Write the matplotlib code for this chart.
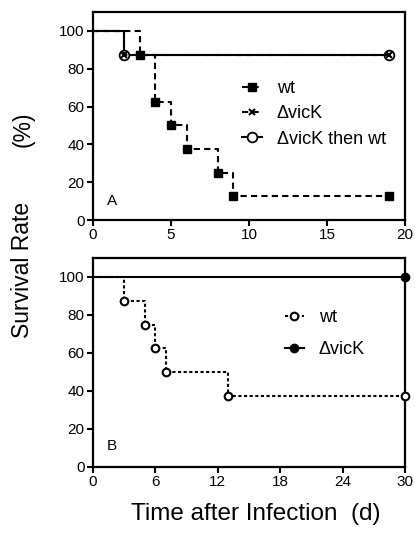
import matplotlib
matplotlib.use("Agg")
import matplotlib.pyplot as plt

plt.rcParams['font.family'] = ['Liberation Sans', 'DejaVu Sans']

# Panel A data
a_wt_t = [0, 3, 4, 5, 6, 8, 9, 19]
a_wt_s = [100, 87.5, 62.5, 50, 37.5, 25, 12.5, 12.5]
a_vick_t = [0, 2, 19]
a_vick_s = [100, 87.5, 87.5]
a_then_t = [0, 2, 19]
a_then_s = [100, 87.5, 87.5]
a_xticks = [0, 5, 10, 15, 20]

# Panel B data
b_wt_t = [0, 3, 5, 6, 7, 13, 30]
b_wt_s = [100, 87.5, 75, 62.5, 50, 37.5, 37.5]
b_vick_t = [0, 30]
b_vick_s = [100, 100]
b_xticks = [0, 6, 12, 18, 24, 30]

yticks = [0, 20, 40, 60, 80, 100]

W, H = 415, 533
fig = plt.figure(figsize=(W / 100, H / 100), dpi=100)

def box(l, r, t, b):
    return [l / W, 1 - b / H, (r - l) / W, (b - t) / H]

axA = fig.add_axes(box(93, 405, 12, 220))
axB = fig.add_axes(box(93, 405, 258, 467))

lw = 1.5
for ax in (axA, axB):
    for s in ax.spines.values():
        s.set_linewidth(1.6)
    ax.tick_params(direction='out', length=4, width=1.5, labelsize=11, pad=2)
    ax.set_ylim(0, 110)
    ax.set_yticks(yticks)

# Panel A
axA.plot(a_then_t, a_then_s, drawstyle='steps-post', color='black', lw=lw,
         marker='o', mfc='white', mec='black', ms=7, mew=1.3,
         markevery=slice(1, None), clip_on=False, label='\u0394vicK then wt', zorder=3)
axA.plot(a_vick_t, a_vick_s, drawstyle='steps-post', color='black', lw=lw,
         ls=(0, (3, 2)), marker='x', ms=5, mew=1.5,
         markevery=slice(1, None), clip_on=False, label='\u0394vicK', zorder=4)
axA.plot(a_wt_t, a_wt_s, drawstyle='steps-post', color='black', lw=lw,
         ls=(0, (3, 2)), marker='s', ms=6, mfc='black',
         markevery=slice(1, None), clip_on=False, label='wt', zorder=5)
axA.set_xlim(0, 20)
axA.set_xticks(a_xticks)
axA.text(1.2, 10, 'A', fontsize=11, ha='center', va='center')
h, l = axA.get_legend_handles_labels()
axA.legend([h[2], h[1], h[0]], [l[2], l[1], l[0]], frameon=False, fontsize=13,
           loc='upper left', bbox_to_anchor=(0.45, 0.715), handlelength=1.1,
           handletextpad=0.8, labelspacing=0.45, borderpad=0)

# Panel B
axB.plot(b_wt_t, b_wt_s, drawstyle='steps-post', color='black', lw=lw,
         ls=(0, (1.5, 1.2)), marker='o', mfc='white', mec='black', ms=5.5, mew=1.5,
         markevery=slice(1, None), clip_on=False, label='wt', zorder=4)
axB.plot(b_vick_t, b_vick_s, drawstyle='steps-post', color='black', lw=lw,
         marker='o', mfc='black', ms=6,
         markevery=slice(1, None), clip_on=False, label='\u0394vicK', zorder=3)
axB.set_xlim(0, 30)
axB.set_xticks(b_xticks)
axB.text(1.8, 11, 'B', fontsize=11, ha='center', va='center')
axB.legend(frameon=False, fontsize=13, loc='upper left',
           bbox_to_anchor=(0.585, 0.80), handlelength=1.1, handletextpad=0.8,
           labelspacing=0.85, borderpad=0)

fig.text(23 / W, 1 - 270 / H, 'Survival Rate', rotation=90,
         fontsize=16.5, ha='center', va='center')
fig.text(23 / W, 1 - 129 / H, '(%)', rotation=90,
         fontsize=16.5, ha='center', va='center')
fig.text(256 / W, 1 - 514 / H, 'Time after Infection  (d)',
         fontsize=17.5, ha='center', va='center')

fig.savefig('out.png', dpi=100)
